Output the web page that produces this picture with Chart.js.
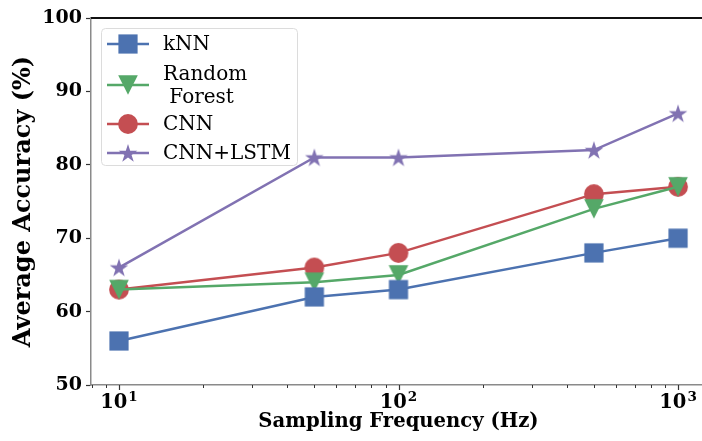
<!DOCTYPE html>
<html>
<head>
<meta charset="utf-8">
<script src="https://cdn.jsdelivr.net/npm/chart.js@4/dist/chart.umd.min.js"></script>
<style>
  html, body { margin: 0; padding: 0; background: #fff; overflow: hidden; }
  #wrap { width: 702px; height: 441px; overflow: hidden; }
</style>
</head>
<body>
<div id="wrap"><canvas id="c" width="706" height="441"></canvas></div>
<script>
// Sampling frequencies (Hz) and average accuracy (%) per model
const frequencies = [10, 50, 100, 500, 1000];
const knnAcc      = [56, 62, 63, 68, 70];
const rfAcc       = [63, 64, 65, 74, 77];
const cnnAcc      = [63, 66, 68, 76, 77];
const cnnLstmAcc  = [66, 81, 81, 82, 87];

const modelNames = ['kNN', ['Random', ' Forest'], 'CNN', 'CNN+LSTM'];
const yTickValues = [50, 60, 70, 80, 90, 100];
const xMajorTicks = [10, 100, 1000];
const xTickBase = '10';
const xTickExponents = ['1', '2', '3'];
const xMinorTicks = [8, 9, 20, 30, 40, 50, 60, 70, 80, 90, 200, 300, 400, 500, 600, 700, 800, 900];

const COLORS = ['#4C72B0', '#55A868', '#C44E52', '#8172B2'];
const SERIF = '"DejaVu Serif", "Liberation Serif", serif';

// ---- marker sprites ----
function sprite(size, drawFn, color) {
  const c = document.createElement('canvas');
  c.width = size; c.height = size;
  const g = c.getContext('2d');
  g.fillStyle = color;
  drawFn(g, size / 2);
  return c;
}
function squareMarker(color) {
  return sprite(22, (g, m) => { g.fillRect(m - 9.6, m - 9.6, 19.2, 19.2); }, color);
}
function triangleDownMarker(color) {
  return sprite(24, (g, m) => {
    const r = 9.8;
    g.beginPath();
    g.moveTo(m - r, m - r);
    g.lineTo(m + r, m - r);
    g.lineTo(m, m + r);
    g.closePath();
    g.fill();
  }, color);
}
function circleMarker(color) {
  return sprite(24, (g, m) => {
    g.beginPath(); g.arc(m, m, 9.9, 0, Math.PI * 2); g.fill();
  }, color);
}
function starMarker(color) {
  return sprite(24, (g, m) => {
    const R = 9.8, r = R * 0.381966;
    g.beginPath();
    for (let i = 0; i < 10; i++) {
      const rad = i % 2 === 0 ? R : r;
      const a = -Math.PI / 2 + i * Math.PI / 5;
      const px = m + rad * Math.cos(a), py = m + 0.8 + rad * Math.sin(a);
      if (i === 0) g.moveTo(px, py); else g.lineTo(px, py);
    }
    g.closePath();
    g.fill();
  }, color);
}
const markers = [squareMarker(COLORS[0]), triangleDownMarker(COLORS[1]), circleMarker(COLORS[2]), starMarker(COLORS[3])];

function toPoints(vals) { return frequencies.map((f, i) => ({ x: f, y: vals[i] })); }
const seriesValues = [knnAcc, rfAcc, cnnAcc, cnnLstmAcc];

const datasets = seriesValues.map((vals, i) => ({
  label: Array.isArray(modelNames[i]) ? modelNames[i].join('\n') : modelNames[i],
  data: toPoints(vals),
  borderColor: COLORS[i],
  backgroundColor: COLORS[i],
  borderWidth: 2.5,
  pointStyle: markers[i],
  pointRadius: 10,
  pointHoverRadius: 10,
  tension: 0,
  fill: false,
  clip: false
}));

// Top frame line, x ticks and power-of-ten labels on the log axis
const framePlugin = {
  id: 'frame',
  afterDraw(chart) {
    const { ctx, chartArea } = chart;
    const xs = chart.scales.x;
    ctx.save();
    ctx.strokeStyle = '#111';
    ctx.lineWidth = 2;
    ctx.beginPath();
    ctx.moveTo(chartArea.left, chartArea.top);
    ctx.lineTo(chartArea.right, chartArea.top);
    ctx.stroke();

    ctx.strokeStyle = '#333';
    const tick = (v, len, w) => {
      const px = Math.round(xs.getPixelForValue(v)) + 0.5;
      ctx.lineWidth = w;
      ctx.beginPath();
      ctx.moveTo(px, chartArea.bottom);
      ctx.lineTo(px, chartArea.bottom + len);
      ctx.stroke();
    };
    xMinorTicks.forEach(v => tick(v, 3, 1));
    xMajorTicks.forEach(v => tick(v, 5, 1.2));

    ctx.fillStyle = '#000';
    ctx.textBaseline = 'alphabetic';
    ctx.textAlign = 'left';
    const baseFont = 'bold 19.5px ' + SERIF;
    const supFont = 'bold 13.5px ' + SERIF;
    const baseY = chartArea.bottom + 23;
    xMajorTicks.forEach((v, k) => {
      const px = xs.getPixelForValue(v);
      ctx.font = baseFont;
      const wb = ctx.measureText(xTickBase).width;
      ctx.font = supFont;
      const ws = ctx.measureText(xTickExponents[k]).width;
      const x0 = px - (wb + ws + 1) / 2;
      ctx.font = baseFont;
      ctx.fillText(xTickBase, x0, baseY);
      ctx.font = supFont;
      ctx.fillText(xTickExponents[k], x0 + wb + 1, baseY - 7.5);
    });
    ctx.restore();
  }
};

// Legend with a line segment through each marker
const legendPlugin = {
  id: 'lineLegend',
  afterDatasetsDraw(chart) {
    const { ctx, chartArea } = chart;
    const bx = chartArea.left + 10, by = chartArea.top + 10, bw = 196, bh = 137;
    ctx.save();
    ctx.fillStyle = 'rgba(255,255,255,0.85)';
    ctx.strokeStyle = '#dcdcdc';
    ctx.lineWidth = 1;
    ctx.beginPath();
    ctx.roundRect(bx + 0.5, by + 0.5, bw, bh, 4);
    ctx.fill();
    ctx.stroke();
    const rows = [16, 57, 96, 125];
    ctx.font = '20px ' + SERIF;
    ctx.textBaseline = 'middle';
    ctx.fillStyle = '#000';
    chart.data.datasets.forEach((ds, i) => {
      const cy = by + rows[i];
      ctx.strokeStyle = ds.borderColor;
      ctx.lineWidth = 2.5;
      ctx.beginPath();
      ctx.moveTo(bx + 6, cy);
      ctx.lineTo(bx + 48, cy);
      ctx.stroke();
      const img = ds.pointStyle;
      ctx.drawImage(img, bx + 27 - img.width / 2, cy - img.height / 2);
      const lines = ds.label.split('\n');
      const lh = 23;
      lines.forEach((t, k) => {
        ctx.fillText(t, bx + 62, cy + (k - (lines.length - 1) / 2) * lh + 1);
      });
    });
    ctx.restore();
  }
};

new Chart(document.getElementById('c'), {
  type: 'line',
  data: { datasets },
  plugins: [framePlugin, legendPlugin],
  options: {
    responsive: false,
    animation: false,
    devicePixelRatio: 1,
    layout: { autoPadding: false, padding: { top: 18, right: 0, left: 0, bottom: 0 } },
    plugins: { legend: { display: false }, tooltip: { enabled: false } },
    scales: {
      x: {
        type: 'logarithmic',
        min: Math.pow(10, 0.9),
        max: Math.pow(10, 3.1),
        afterBuildTicks(scale) {
          scale.ticks = xMajorTicks.map(v => ({ value: v, major: true }));
        },
        afterFit(scale) {
          scale.height = 56;
          scale.paddingLeft = 0;
          scale.paddingRight = 0;
        },
        ticks: {
          autoSkip: false,
          maxRotation: 0,
          minRotation: 0,
          padding: 3,
          color: '#000',
          font: { family: SERIF, size: 19, weight: 'bold' },
          callback() { return ''; }
        },
        grid: { display: false, drawOnChartArea: false, drawTicks: false },
        border: { display: true, color: '#8a8a8a', width: 1.5 },
        title: {
          display: true,
          text: 'Sampling Frequency (Hz)',
          color: '#000',
          font: { family: SERIF, size: 19.6, weight: 'bold' },
          padding: { top: 0, bottom: 7 }
        }
      },
      y: {
        min: 50,
        max: 100,
        afterBuildTicks(scale) { scale.ticks = yTickValues.map(v => ({ value: v })); },
        afterFit(scale) { scale.width = 91; },
        ticks: {
          padding: 4,
          color: '#000',
          font: { family: SERIF, size: 19, weight: 'bold' }
        },
        grid: {
          drawOnChartArea: false,
          drawTicks: true,
          tickLength: 5,
          tickWidth: 1.2,
          tickColor: '#333'
        },
        border: { display: true, color: '#8a8a8a', width: 1.5 },
        title: {
          display: true,
          text: 'Average Accuracy (%)',
          color: '#000',
          font: { family: SERIF, size: 24, weight: 'bold' },
          padding: { top: 9, bottom: 0 }
        }
      }
    }
  }
});
</script>
</body>
</html>
